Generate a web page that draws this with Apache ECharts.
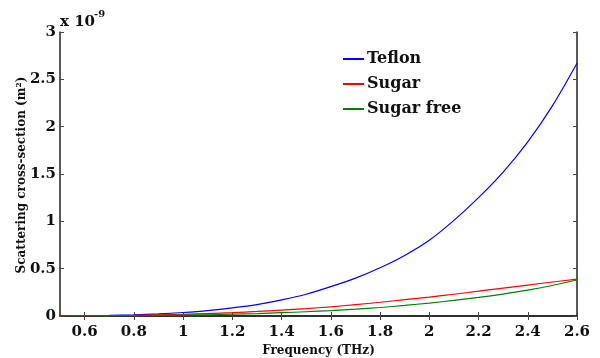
<!DOCTYPE html>
<html>
<head>
<meta charset="utf-8">
<script src="https://cdn.jsdelivr.net/npm/echarts@6/dist/echarts.min.js"></script>
<style>
  html, body { margin: 0; padding: 0; background: #fff; }
  #chart { width: 600px; height: 358px; }
</style>
</head>
<body>
<div id="chart"></div>
<script>
// frequency (THz) and scattering cross-section (x 1e-9 m^2)
const freq = [0.5, 0.6, 0.7, 0.8, 0.9, 1.0, 1.1, 1.2, 1.3, 1.4, 1.5, 1.6, 1.7, 1.8, 1.9, 2.0, 2.1, 2.2, 2.3, 2.4, 2.5, 2.6];
const teflon = [0.001, 0.003, 0.006, 0.012, 0.022, 0.037, 0.057, 0.085, 0.12, 0.17, 0.23, 0.31, 0.40, 0.51, 0.64, 0.80, 1.01, 1.25, 1.52, 1.84, 2.22, 2.67];
const sugar = [0.001, 0.002, 0.004, 0.007, 0.012, 0.018, 0.026, 0.036, 0.048, 0.062, 0.078, 0.097, 0.12, 0.145, 0.172, 0.20, 0.23, 0.262, 0.295, 0.327, 0.359, 0.39];
const sugarFree = [0, 0.001, 0.002, 0.004, 0.006, 0.009, 0.013, 0.019, 0.026, 0.035, 0.045, 0.057, 0.072, 0.09, 0.112, 0.137, 0.165, 0.196, 0.232, 0.273, 0.322, 0.38];
const xTicks = [0.6, 0.8, 1.0, 1.2, 1.4, 1.6, 1.8, 2.0, 2.2, 2.4, 2.6];

const font = "DejaVu Serif";
const pair = ys => freq.map((f, i) => [f, ys[i]]);

const chart = echarts.init(document.getElementById("chart"));

const axisLine = { lineStyle: { color: "#222", width: 1.5 } };
const tick = { inside: true, length: 4, lineStyle: { color: "#444" } };
const lineSeries = (name, ys, color) => ({
  name, type: "line", smooth: 0.3, showSymbol: false,
  data: pair(ys), lineStyle: { color, width: 1.2 }, itemStyle: { color }
});

chart.setOption({
  animation: false,
  backgroundColor: "#fff",
  grid: { left: 60, right: 23, top: 32, bottom: 42, outerBoundsMode: "none" },
  legend: {
    orient: "vertical",
    left: 343, top: 51, padding: 0,
    itemGap: 9,
    itemWidth: 21, itemHeight: 2,
    icon: "rect",
    textStyle: { fontFamily: font, fontWeight: "bold", fontSize: 16, color: "#111", padding: [0, 0, 0, -2] },
    data: ["Teflon", "Sugar", "Sugar free"]
  },
  xAxis: [
    {
      type: "value", min: 0.5, max: 2.6,
      axisLine: axisLine,
      axisTick: Object.assign({ customValues: xTicks }, tick),
      axisLabel: {
        customValues: xTicks,
        formatter: v => +v.toFixed(1) + "",
        fontFamily: font, fontWeight: "bold", fontSize: 15, color: "#111", margin: 9
      },
      splitLine: { show: false },
      name: "Frequency (THz)", nameLocation: "middle", nameGap: 28,
      nameTextStyle: { fontFamily: font, fontWeight: "bold", fontSize: 12, color: "#111" }
    },
    {
      type: "value", min: 0.5, max: 2.6, position: "top",
      axisLine: axisLine,
      axisTick: Object.assign({ customValues: xTicks }, tick),
      axisLabel: { show: false },
      splitLine: { show: false }
    }
  ],
  yAxis: [
    {
      type: "value", min: 0, max: 3, interval: 0.5,
      axisLine: { show: true, lineStyle: { color: "#222", width: 1.5 } },
      axisTick: Object.assign({ show: true }, tick),
      axisLabel: { fontFamily: font, fontWeight: "bold", fontSize: 15, color: "#111", margin: 4 },
      splitLine: { show: false }
    },
    {
      type: "value", min: 0, max: 3, interval: 0.5, position: "right",
      axisLine: { show: true, lineStyle: { color: "#222", width: 1.5 } },
      axisTick: Object.assign({ show: true }, tick),
      axisLabel: { show: false },
      splitLine: { show: false }
    }
  ],
  graphic: [
    {
      type: "text", x: 60, y: 22,
      style: { text: "x 10", fontFamily: font, fontWeight: "bold", fontSize: 15, fill: "#111", verticalAlign: "middle" }
    },
    {
      type: "text", x: 94, y: 14,
      style: { text: "-9", fontFamily: font, fontWeight: "bold", fontSize: 10, fill: "#111", verticalAlign: "middle" }
    },
    {
      type: "text", x: 22, y: 175, rotation: Math.PI / 2,
      style: {
        text: "Scattering cross-section (m²)",
        fontFamily: font, fontWeight: "bold", fontSize: 12, fill: "#111",
        align: "center", verticalAlign: "middle"
      }
    }
  ],
  series: [
    lineSeries("Teflon", teflon, "#0000ff"),
    lineSeries("Sugar", sugar, "#ff0000"),
    lineSeries("Sugar free", sugarFree, "#008000")
  ]
});
</script>
</body>
</html>
